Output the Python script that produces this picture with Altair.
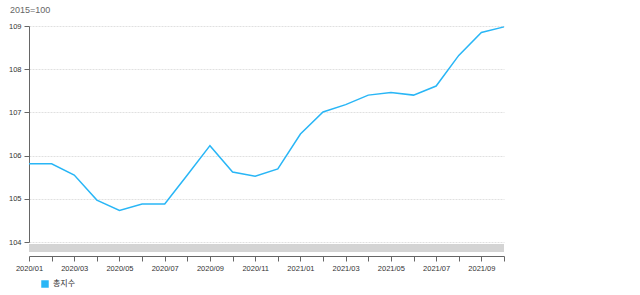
import altair as alt
import pandas as pd

months = ["2020/01", "2020/02", "2020/03", "2020/04", "2020/05", "2020/06",
          "2020/07", "2020/08", "2020/09", "2020/10", "2020/11", "2020/12",
          "2021/01", "2021/02", "2021/03", "2021/04", "2021/05", "2021/06",
          "2021/07", "2021/08", "2021/09", "2021/10"]
values = [105.81, 105.81, 105.55, 104.97, 104.73, 104.88,
          104.88, 105.55, 106.23, 105.62, 105.52, 105.69,
          106.50, 107.01, 107.18, 107.40, 107.46, 107.40,
          107.61, 108.32, 108.85, 108.98]
series_name = "총지수"

df = pd.DataFrame({"month": months, "value": values, "series": series_name})
bar_df = pd.DataFrame({"start": [months[0]], "end": [months[-1]]})

FONT = "Liberation Sans, Noto Sans CJK KR, sans-serif"
BLUE = "#29b6f6"

xscale = alt.Scale(type="point", padding=0, domain=months)

x_axis = alt.Axis(
    title=None,
    labelAngle=0,
    labelAlign="center",
    labelBaseline="top",
    offset=14,
    labelExpr="toNumber(substring(datum.value, 5, 7)) % 2 == 1 ? datum.value : ''",
    labelFontSize=7.5,
    labelColor="#333333",
    labelFont=FONT,
    labelPadding=3,
    domainColor="#666666",
    tickColor="#666666",
    tickSize=5,
    grid=False,
    labelOverlap=False,
)

line = alt.Chart(df).mark_line(strokeWidth=1.5).encode(
    x=alt.X("month:O", sort=months, scale=xscale, axis=x_axis),
    y=alt.Y(
        "value:Q",
        scale=alt.Scale(domain=[104, 109], nice=False, zero=False),
        axis=alt.Axis(
            title=None,
            values=[104, 105, 106, 107, 108, 109],
            format="d",
            labelFontSize=7.5,
            labelColor="#333333",
            labelFont=FONT,
            labelPadding=3,
            domainColor="#666666",
            tickColor="#666666",
            tickSize=5,
            gridColor="#e0e0e0",
            gridDash=[2, 1],
        ),
    ),
    color=alt.Color(
        "series:N",
        scale=alt.Scale(domain=[series_name], range=[BLUE]),
        legend=alt.Legend(
            title=None,
            orient="none",
            legendX=12,
            legendY=254,
            padding=0,
            symbolType="square",
            symbolSize=56,
            symbolFillColor=BLUE,
            symbolStrokeWidth=0,
            labelFontSize=8,
            labelFont=FONT,
            labelColor="#333333",
            labelOffset=4,
        ),
    ),
)

scroll = alt.Chart(bar_df).mark_rect(color="#d4d4d4").encode(
    x=alt.X("start:O", sort=months, scale=xscale, axis=x_axis),
    x2="end:O",
    y=alt.value(218),
    y2=alt.value(226),
)

chart = alt.layer(scroll, line).properties(
    width=475,
    height=216,
    background="white",
    title=alt.TitleParams(
        "2015=100",
        anchor="start",
        frame="group",
        fontSize=9,
        fontWeight="normal",
        color="#666666",
        font=FONT,
        dx=-19,
        offset=7,
    ),
    autosize=alt.AutoSizeParams(type="none"),
    padding={"left": 29, "top": 26, "right": 136, "bottom": 53},
).configure_view(strokeWidth=0, stroke=None)

chart.save("out.html", embed_options={"renderer": "svg", "actions": False})
